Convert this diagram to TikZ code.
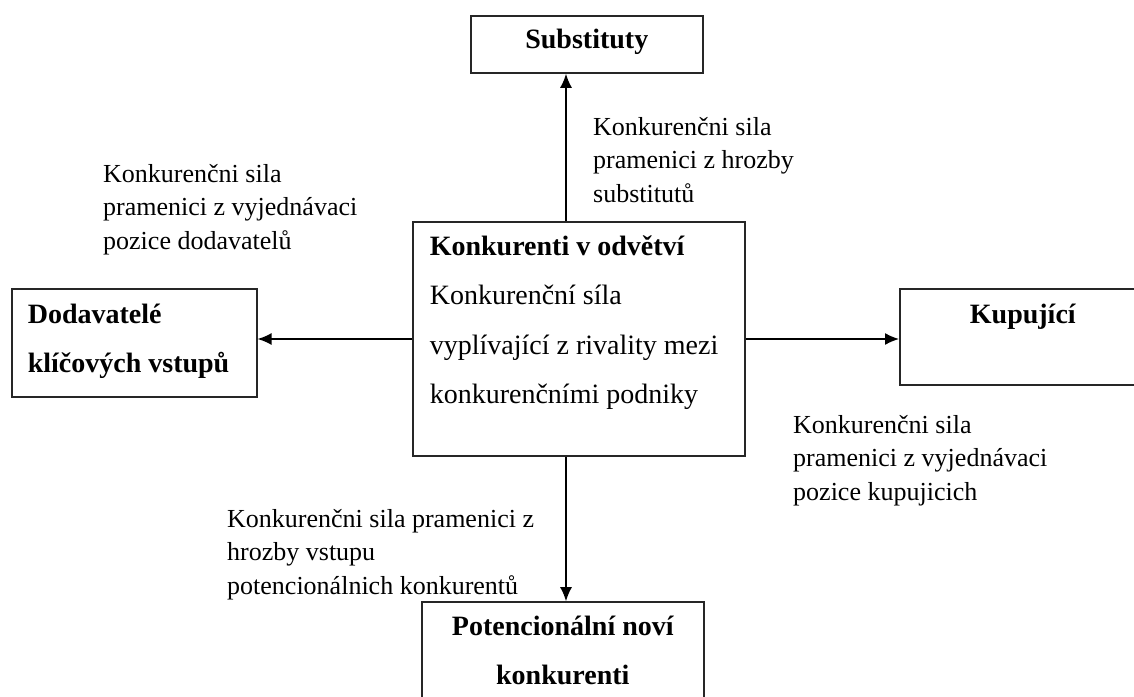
\documentclass[tikz,border=0pt]{standalone}
\usepackage{fontspec}
\setmainfont{Liberation Serif}
\usetikzlibrary{arrows.meta}
\begin{document}
\begin{tikzpicture}[x=1pt,y=-1pt,
  box/.style={draw=black!85, line width=1.6pt, inner ysep=0pt, anchor=base west},
  boxfont/.style={font=\fontsize{28}{49.5}\selectfont},
  lbl/.style={inner sep=0pt, anchor=base west, font=\fontsize{26}{33.5}\selectfont},
  arr/.style={line width=1.5pt, -{Latex[length=14pt,width=12pt]}}]
\useasboundingbox (0,0) rectangle (1134,696);
% boxes
\node[box, boxfont, inner xsep=10pt, text height=32pt, text depth=25pt] (sub) at (470,48)
  {\parbox[t]{212pt}{\centering\bfseries Substituty}};
\node[box, boxfont, inner xsep=17pt, text height=33pt, text depth=201pt] (ctr) at (412,255)
  {\parbox[t]{298pt}{\raggedright\textbf{Konkurenti v odvětví}\\Konkurenční síla\\vyplívající z rivality mezi\\konkurenčními podniky}};
\node[box, boxfont, inner xsep=16pt, text height=34pt, text depth=74pt] (dod) at (11,323)
  {\parbox[t]{213pt}{\raggedright\bfseries Dodavatelé\\klíčových vstupů}};
\node[box, boxfont, inner xsep=10pt, text height=34pt, text depth=62pt] (kup) at (899,323)
  {\parbox[t]{226pt}{\centering\bfseries Kupující}};
\node[box, boxfont, inner xsep=10pt, text height=33pt, text depth=85pt] (pot) at (421,635)
  {\parbox[t]{262pt}{\centering\bfseries Potencionální noví\\konkurenti}};
% labels
\node[lbl] (lsub) at (593,135)
  {\parbox[t]{300pt}{\raggedright Konkurenčni sila\\pramenici z hrozby\\substitutů}};
\node[lbl] (ldod) at (103,182)
  {\parbox[t]{300pt}{\raggedright Konkurenčni sila\\pramenici z vyjednávaci\\pozice dodavatelů}};
\node[lbl] (lpot) at (227,527)
  {\parbox[t]{330pt}{\raggedright Konkurenčni sila pramenici z\\hrozby vstupu\\potencionálnich konkurentů}};
\node[lbl] (lkup) at (793,433)
  {\parbox[t]{300pt}{\raggedright Konkurenčni sila\\pramenici z vyjednávaci\\pozice kupujicich}};
% connectors
\coordinate (vx) at (566,0);
\draw[arr] (ctr.north -| vx) -- (sub.south -| vx);
\draw[arr] (ctr.south -| vx) -- (pot.north -| vx);
\draw[arr] (ctr.west) -- (dod.east |- ctr.west);
\draw[arr] (ctr.east) -- (kup.west |- ctr.east);
\end{tikzpicture}
\end{document}
